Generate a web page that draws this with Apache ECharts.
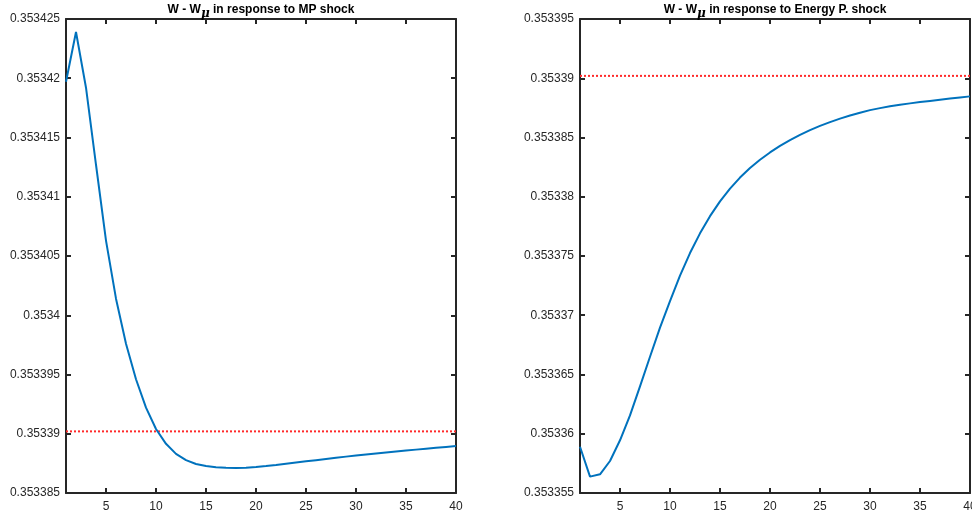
<!DOCTYPE html>
<html>
<head>
<meta charset="utf-8">
<script src="https://cdn.jsdelivr.net/npm/echarts@6/dist/echarts.min.js"></script>
<style>
html,body{margin:0;padding:0;background:#fff;}
#chart{width:972px;height:518px;}
</style>
</head>
<body>
<div id="chart"></div>
<script>
// ---- data ----
const periods = [1,2,3,4,5,6,7,8,9,10,11,12,13,14,15,16,17,18,19,20,21,22,23,24,25,26,27,28,29,30,31,32,33,34,35,36,37,38,39,40];
const mpShock = [0.3534197,0.3534239,0.3534192,0.3534127,0.3534063,0.3534014,0.3533976,0.3533946,0.3533922,0.3533904,
  0.35338915,0.3533883,0.35338777,0.35338745,0.35338727,0.35338717,0.35338713,0.35338712,0.35338714,0.3533872,
  0.35338728,0.35338737,0.35338747,0.35338757,0.35338767,0.35338777,0.35338787,0.35338797,0.35338807,0.35338816,
  0.35338825,0.35338834,0.35338842,0.3533885,0.35338858,0.35338866,0.35338874,0.35338882,0.35338889,0.35338896];
const energyShock = [0.3533589,0.35335638,0.35335658,0.3533577,0.35335945,0.35336155,0.353364,0.3533665,0.35336895,0.3533712,
  0.35337335,0.35337525,0.35337691,0.35337836,0.35337961,0.35338069,0.35338162,0.35338242,0.35338312,0.35338374,
  0.35338429,0.35338478,0.35338522,0.35338562,0.35338598,0.3533863,0.35338659,0.35338685,0.35338709,0.35338731,
  0.35338748,0.35338763,0.35338776,0.35338788,0.35338799,0.35338809,0.35338819,0.35338829,0.35338838,0.35338847];
const steadyState = 0.3533902;
const xTicks = [5,10,15,20,25,30,35,40];
const leftYRange = [0.353385, 0.353425];
const rightYRange = [0.353355, 0.353395];
const yStep = 0.000005;
const titles = ['MP shock', 'Energy P. shock'];

// ---- chart ----
const AX = '#262626';
const FONT = 'Liberation Sans, Arial, Helvetica, sans-serif';
function fmtY(v){ return String(parseFloat(v.toFixed(6))); }

function xAxis(gi, pos, showLabel){
  return {
    type:'value', gridIndex:gi, position:pos, min:1, max:40,
    axisLine:{show:true, onZero:false, lineStyle:{color:AX, width:2}},
    axisTick:{show:true, inside:true, length:5, lineStyle:{color:AX, width:2}, customValues:xTicks},
    axisLabel:{show:showLabel, color:AX, fontSize:12, fontFamily:FONT, margin:8, customValues:xTicks},
    splitLine:{show:false}
  };
}
function yAxis(gi, pos, range, showLabel){
  return {
    type:'value', gridIndex:gi, position:pos, min:range[0], max:range[1], interval:yStep,
    axisLine:{show:true, onZero:false, lineStyle:{color:AX, width:2}},
    axisTick:{show:true, inside:true, length:5, lineStyle:{color:AX, width:2}},
    axisLabel:{show:showLabel, color:AX, fontSize:12, fontFamily:FONT, margin:6, formatter:fmtY, showMinLabel:true, showMaxLabel:true},
    splitLine:{show:false}
  };
}
function pairs(xs, ys){ return xs.map((x,i)=>[x, ys[i]]); }
function titleText(name){
  return '{b|W - W}{s|μ}{b| in response to ' + name + '}';
}
const titleRich = {
  b:{fontWeight:'bold', fontSize:12, color:'#000', fontFamily:FONT, lineHeight:16, verticalAlign:'top'},
  s:{fontStyle:'italic', fontSize:12, color:'#000', fontFamily:'DejaVu Serif, serif', lineHeight:16, verticalAlign:'bottom'}
};

const chart = echarts.init(document.getElementById('chart'), null, {renderer:'canvas'});
chart.setOption({
  animation:false,
  backgroundColor:'#fff',
  title:[
    {text:titleText(titles[0]), left:261, top:4, textAlign:'center', padding:0, textStyle:{rich:titleRich}},
    {text:titleText(titles[1]), left:775, top:4, textAlign:'center', padding:0, textStyle:{rich:titleRich}}
  ],
  grid:[
    {left:66, right:516, top:19, bottom:25, outerBoundsMode:'none'},
    {left:580, right:2, top:19, bottom:25, outerBoundsMode:'none'}
  ],
  xAxis:[xAxis(0,'bottom',true), xAxis(0,'top',false), xAxis(1,'bottom',true), xAxis(1,'top',false)],
  yAxis:[yAxis(0,'left',leftYRange,true), yAxis(0,'right',leftYRange,false),
         yAxis(1,'left',rightYRange,true), yAxis(1,'right',rightYRange,false)],
  series:[
    {type:'line', xAxisIndex:0, yAxisIndex:0, data:pairs(periods, mpShock), showSymbol:false,
     lineStyle:{color:'#0072BD', width:2}, z:3},
    {type:'line', xAxisIndex:0, yAxisIndex:0, data:pairs([periods[0], periods[periods.length-1]], [steadyState, steadyState]), showSymbol:false,
     lineStyle:{color:'#ff2a2a', width:2, type:[2,2]}, z:2},
    {type:'line', xAxisIndex:2, yAxisIndex:2, data:pairs(periods, energyShock), showSymbol:false,
     lineStyle:{color:'#0072BD', width:2}, z:3},
    {type:'line', xAxisIndex:2, yAxisIndex:2, data:pairs([periods[0], periods[periods.length-1]], [steadyState, steadyState]), showSymbol:false,
     lineStyle:{color:'#ff2a2a', width:2, type:[2,2]}, z:2}
  ]
});
</script>
</body>
</html>
